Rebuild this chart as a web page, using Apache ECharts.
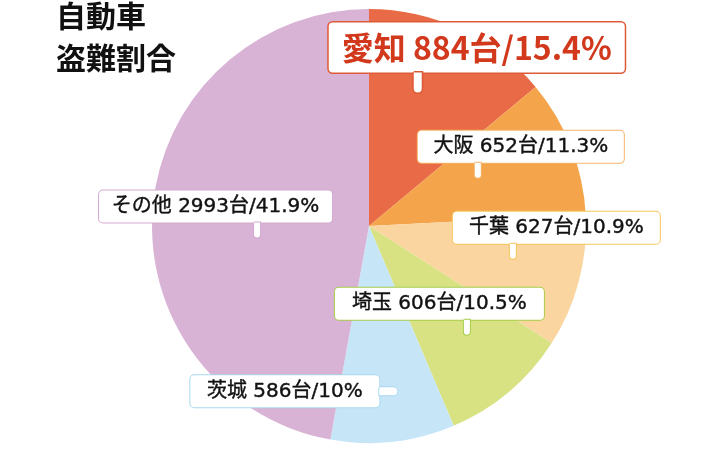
<!DOCTYPE html>
<html><head><meta charset="utf-8">
<script src="https://cdn.jsdelivr.net/npm/echarts@6/dist/echarts.min.js"></script>
<style>html,body{margin:0;padding:0;background:#fff}#c{width:713px;height:450px}</style>
</head><body><div id="c"></div>
<script>
// ---- data ----
const categories = ['愛知', '大阪', '千葉', '埼玉', '茨城', 'その他'];
const counts = [884, 652, 627, 606, 586, 2993];
const shares = ['15.4%', '11.3%', '10.9%', '10.5%', '10%', '41.9%'];
const unit = '台';
const titleText = '自動車\n盗難割合';

// ---- styles ----
const sliceColors = ['#E86A46', '#F4A54B', '#FAD59F', '#D8E283', '#C6E6F8', '#D8B3D5'];
const borderColors = ['#DE5A36', '#F6B46A', '#F5C65A', '#A5CE4A', '#A8D8F0', '#D5AAD0'];
// callout geometry: dx, dy (from inside anchor), box width, tail offset, tail side
const callouts = [
  { dx: 60.5, dy: -67.5, w: 296, tail: 85, side: 'bottom' },
  { dx: 48.0, dy: -31.0, w: 206, tail: 57, side: 'bottom' },
  { dx: 79.6, dy: -19.4, w: 207, tail: 57, side: 'bottom' },
  { dx: -1.5, dy: 0.0, w: 209, tail: 129, side: 'bottom' },
  { dx: -87.5, dy: 54.5, w: 189, tail: 0, side: 'right' },
  { dx: -42.4, dy: -2.0, w: 233, tail: 155, side: 'bottom' }
];

function richFor(i) {
  const c = callouts[i];
  const big = i === 0;
  const boxH = big ? 50 : 32;
  const txtColor = big ? '#D2381C' : '#111';
  const rich = {
    box: {
      width: c.w, height: big ? 34 : 20, lineHeight: boxH,
      padding: big ? [8, 0, 8, 0] : [6, 0, 6, 0],
      align: 'center', verticalAlign: 'middle',
      fontSize: big ? 32 : 20,
      fontWeight: big ? 'bold' : 'normal',
      fontFamily: big ? 'Noto Sans CJK JP' : 'DejaVu Sans, Noto Sans CJK JP',
      color: txtColor,
      textBorderColor: txtColor, textBorderWidth: big ? 0 : 0.4,
      backgroundColor: '#fff',
      borderColor: borderColors[i], borderWidth: big ? 1.5 : 1, borderRadius: 4
    },
    sp: { width: c.tail, height: big ? 20 : 15, lineHeight: big ? 20 : 15, align: 'left' },
    tail: c.side === 'bottom'
      ? { width: big ? 8 : 6, height: big ? 20 : 15, lineHeight: big ? 20 : 15, align: 'left',
          backgroundColor: '#fff', borderColor: borderColors[i], borderWidth: big ? 1.5 : 1,
          borderRadius: [0, 0, 4, 4] }
      : { width: 18, height: 8, lineHeight: 8, align: 'left', verticalAlign: 'middle',
          backgroundColor: '#fff', borderColor: borderColors[i], borderWidth: 1,
          borderRadius: [0, 4, 4, 0] }
  };
  return rich;
}

const seriesData = categories.map((name, i) => ({
  name: name,
  value: counts[i],
  itemStyle: { color: sliceColors[i] },
  label: { rich: richFor(i) }
}));

const chart = echarts.init(document.getElementById('c'), null, { renderer: 'canvas' });
chart.setOption({
  animation: false,
  backgroundColor: '#fff',
  title: {
    text: titleText,
    left: 56, top: -5, padding: 0,
    textStyle: { fontFamily: 'Noto Sans CJK JP', fontWeight: 'bold', fontSize: 30, lineHeight: 42, color: '#111' }
  },
  series: [{
    type: 'pie',
    center: [369, 226],
    radius: 217,
    startAngle: 90,
    clockwise: true,
    avoidLabelOverlap: false,
    emphasis: { disabled: true },
    itemStyle: { borderWidth: 0 },
    label: {
      show: true,
      position: 'inside',
      textBorderWidth: 0,
      formatter: function (p) {
        const i = p.dataIndex;
        const t = categories[i] + ' ' + counts[i] + unit + '/' + shares[i];
        if (callouts[i].side === 'right') return '{box|' + t + '}{tail|}';
        return '{box|' + t + '}\n{sp|}{tail|}';
      }
    },
    labelLine: { show: false },
    labelLayout: function (p) {
      const c = callouts[p.dataIndex];
      return { dx: c.dx, dy: c.dy };
    },
    data: seriesData
  }]
});
</script></body></html>
